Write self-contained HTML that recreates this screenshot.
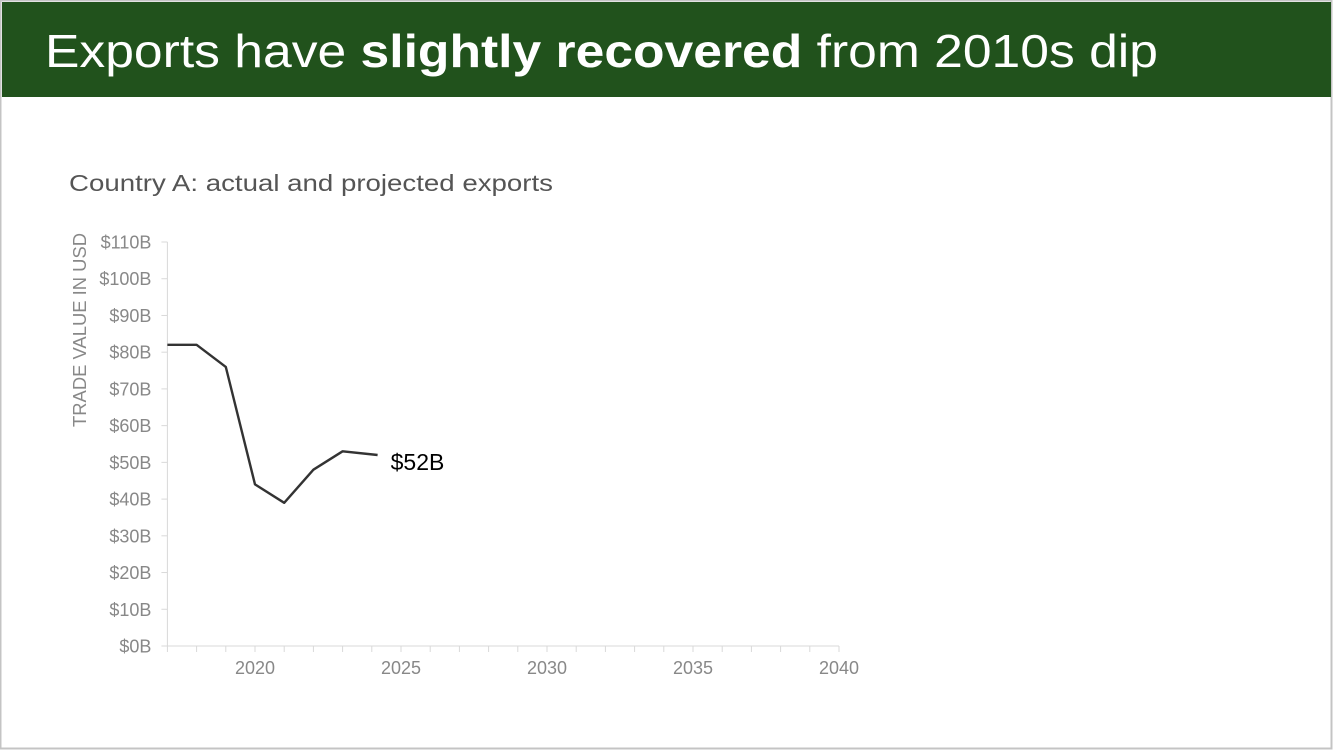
<!DOCTYPE html>
<html><head><meta charset="utf-8"><style>
html,body{margin:0;padding:0;background:#fff}
body{width:1333px;height:750px;overflow:hidden}
</style></head><body>
<svg width="1333" height="750" xmlns="http://www.w3.org/2000/svg" style="font-family:'Liberation Sans',sans-serif">
<rect x="0.5" y="0.5" width="1331" height="748" fill="#fff" stroke="#c4c4c4" stroke-width="2"/>
<rect x="2" y="2" width="1329" height="95" fill="#21521c"/>
<text x="45" y="67" font-size="46" fill="#fff" textLength="1113" lengthAdjust="spacingAndGlyphs">Exports have <tspan font-weight="bold">slightly recovered</tspan> from 2010s dip</text>
<text x="69" y="191" font-size="23" fill="#555" textLength="484" lengthAdjust="spacingAndGlyphs">Country A: actual and projected exports</text>
<text transform="translate(86,330) rotate(-90)" text-anchor="middle" font-size="18" fill="#888" textLength="194" lengthAdjust="spacingAndGlyphs">TRADE VALUE IN USD</text>
<g id="chart"></g>
</svg>
<script>
const years = [2017, 2018, 2019, 2020, 2021, 2022, 2023, 2024.2];
const exportsB = [82, 82, 76, 44, 39, 48, 53, 52];
const yTicks = [0,10,20,30,40,50,60,70,80,90,100,110];
const xTickLabels = [2020, 2025, 2030, 2035, 2040];
const endLabel = "$52B";

const NS = "http://www.w3.org/2000/svg";
const g = document.getElementById('chart');
const x0 = 167.4, pxYear = 29.2, yBase = 646, pxUnit = (646 - 242) / 110;
const X = v => x0 + (v - 2017) * pxYear;
const Y = v => yBase - v * pxUnit;
function mk(tag, attrs){const e=document.createElementNS(NS,tag);for(const k in attrs)e.setAttribute(k,attrs[k]);g.appendChild(e);return e;}

let ax = mk('line',{x1:X(2017),y1:Y(0),x2:X(2040),y2:Y(0),stroke:'#d9d9d9','stroke-width':1});


let ay = mk('line',{x1:X(2017),y1:Y(0),x2:X(2017),y2:Y(110),stroke:'#d9d9d9','stroke-width':1});



yTicks.forEach(v=>{
  let t = mk('line',{x1:X(2017)-6,y1:Y(v),x2:X(2017),y2:Y(v),stroke:'#d9d9d9'});
  
  
  let l = mk('text',{x:X(2017)-16,y:Y(v)+6.5,'text-anchor':'end','font-size':18,fill:'#888'});
  l.textContent = '$'+v+'B';
  
  
});
for(let yr=2017; yr<=2040; yr++){
  let t = mk('line',{x1:X(yr),y1:Y(0),x2:X(yr),y2:Y(0)+6,stroke:'#d9d9d9'});
  
  
}
xTickLabels.forEach(yr=>{
  let l = mk('text',{x:X(yr),y:Y(0)+28,'text-anchor':'middle','font-size':18,fill:'#888'});
  l.textContent = yr;
  
  
});
let pts = years.map((yr,i)=>X(yr).toFixed(1)+','+Y(exportsB[i]).toFixed(1)).join(' ');
let line = mk('polyline',{points:pts,fill:'none',stroke:'#333','stroke-width':2.4,'stroke-linejoin':'round'});


let n = years.length-1;
let lab = mk('text',{x:X(years[n])+13,y:Y(exportsB[n])+15,'font-size':23,fill:'#000'});
lab.textContent = endLabel;


</script>
</body></html>
